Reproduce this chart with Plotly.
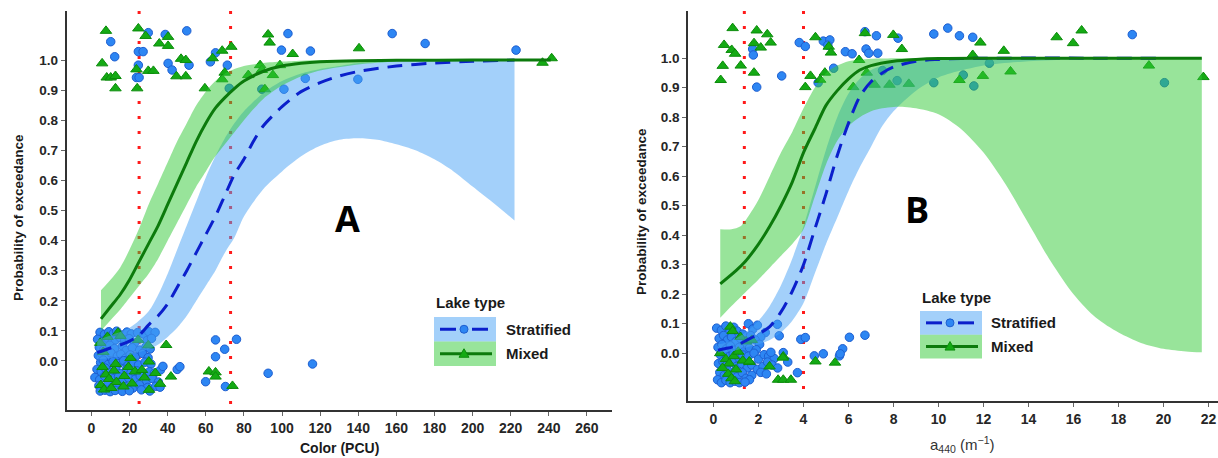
import plotly.graph_objects as go

W, H = 1218, 458

# ---------------- Panel A : colour (PCU) ----------------
a_thresholds = [25, 73]
a_xticks = [0, 20, 40, 60, 80, 100, 120, 140, 160, 180, 200, 220, 240, 260]

a_strat_line_x = [3, 6, 10, 15, 20, 25, 30, 35, 40, 45, 50, 55, 60, 65, 70, 75, 80, 85, 90, 100,
                  110, 120, 130, 140, 160, 180, 200, 222]
a_strat_line_y = [0.028, 0.034, 0.043, 0.053, 0.066, 0.085, 0.12, 0.15, 0.19, 0.245, 0.30, 0.36, 0.42,
                  0.48, 0.55, 0.62, 0.67, 0.73, 0.78, 0.845, 0.895, 0.925, 0.947, 0.962, 0.98, 0.99,
                  0.996, 1.0]
a_strat_band_x = [3, 10, 20, 30, 35, 40, 45, 50, 55, 60, 65, 70, 75, 80, 90, 100, 110, 120, 130, 140,
                  150, 160, 170, 180, 190, 200, 210, 222]
a_strat_band_lo = [0.005, 0.01, 0.02, 0.04, 0.055, 0.08, 0.11, 0.15, 0.2, 0.25, 0.3, 0.36, 0.41, 0.48,
                   0.57, 0.63, 0.68, 0.715, 0.735, 0.74, 0.735, 0.72, 0.70, 0.67, 0.63, 0.58, 0.53, 0.467]
a_strat_band_hi = [0.07, 0.085, 0.11, 0.165, 0.22, 0.29, 0.37, 0.45, 0.53, 0.61, 0.68, 0.74, 0.79, 0.83,
                   0.89, 0.93, 0.955, 0.97, 0.98, 0.99, 0.993, 0.996, 0.998, 0.999, 1.0, 1.0, 1.0, 1.0]

a_mixed_line_x = [5, 10, 15, 20, 25, 30, 35, 40, 45, 50, 55, 60, 65, 70, 75, 80, 90, 100, 110, 120,
                  140, 160, 200, 241]
a_mixed_line_y = [0.14, 0.18, 0.22, 0.27, 0.33, 0.39, 0.45, 0.52, 0.59, 0.66, 0.73, 0.79, 0.84, 0.875,
                  0.905, 0.93, 0.962, 0.98, 0.989, 0.994, 0.998, 0.999, 1.0, 1.0]
a_mixed_band_x = [5, 10, 15, 20, 25, 30, 35, 40, 45, 50, 55, 60, 65, 70, 75, 80, 90, 100, 110, 120,
                  140, 160, 180, 200, 241]
a_mixed_band_lo = [0.10, 0.135, 0.17, 0.21, 0.25, 0.29, 0.34, 0.40, 0.46, 0.52, 0.58, 0.63, 0.68, 0.72,
                   0.76, 0.80, 0.87, 0.915, 0.945, 0.965, 0.985, 0.995, 0.999, 1.0, 1.0]
a_mixed_band_hi = [0.235, 0.27, 0.31, 0.37, 0.44, 0.52, 0.59, 0.66, 0.73, 0.79, 0.85, 0.895, 0.93, 0.955,
                   0.97, 0.98, 0.99, 0.995, 0.998, 0.999, 1.0, 1.0, 1.0, 1.0, 1.0]

# jittered observations (exceeded = near 1, not exceeded = near 0)
a_strat_pts_x = [
    10.1, 12.2, 23.6, 25.0, 24.6, 27.1, 24.6, 29.8, 38.7, 40.2, 42.3, 50.0, 51.2, 62.4, 65.1, 71.3,
    72.3, 89.4, 99.7, 101.0, 103.1, 112.2, 114.9, 139.8, 157.8, 175.1, 222.8,
    4.5, 6.8, 9.1, 11.5, 13.2, 15.8, 18.6, 20.9, 24.2, 27.5, 30.1, 33.4,
    3.2, 5.9, 8.3, 10.7, 12.6, 14.9, 17.4, 19.8, 22.6, 29.2, 31.5,
    4.1, 6.5, 9.6, 12.1, 16.3, 18.2, 21.4, 25.3, 28.6, 30.8,
    3.6, 5.4, 7.7, 10.2, 13.6, 15.4, 17.9, 20.3, 23.1, 26.8, 29.7,
    4.8, 6.2, 8.8, 11.3, 14.4, 16.9, 19.1, 22.2, 24.7, 28.1, 31.2,
    2.9, 5.1, 7.3, 9.9, 12.8, 15.1, 18.4, 20.7, 23.8, 27.3, 30.4, 33.1, 36.2,
    1.8, 4.3, 6.9, 9.4, 11.9, 14.2, 16.6, 19.5, 22.9, 25.6, 28.9, 31.9, 35.1,
    3.9, 6.1, 8.6, 10.9, 13.4, 15.9, 18.1, 21.8, 25.1, 29.5, 33.7,
    4.6, 7.1, 9.8, 12.4, 16.2, 19.9, 26.2, 30.6,
    45.0, 46.4, 36.0, 37.5, 65.1, 69.9, 76.1, 65.1, 59.9, 70.3, 92.7, 116.0]
a_strat_pts_y = [
    1.061, 1.011, 0.942, 0.942, 1.028, 1.028, 0.983, 1.091, 1.085, 0.989, 0.967, 1.097, 0.983, 0.994,
    1.024, 0.983, 0.906, 0.903, 1.033, 0.903, 1.088, 0.939, 1.03, 0.936, 1.088, 1.055, 1.033,
    0.095, 0.088, 0.097, 0.091, 0.099, 0.086, 0.096, 0.09, 0.094, 0.089, 0.097, 0.095,
    0.072, 0.065, 0.076, 0.061, 0.07, 0.078, 0.066, 0.074, 0.06, 0.068, 0.075,
    0.045, 0.038, 0.052, 0.041, 0.049, 0.035, 0.044, 0.036, 0.047, 0.04,
    0.018, 0.024, 0.012, 0.027, 0.016, 0.022, 0.009, 0.02, 0.014, 0.025, 0.011,
    -0.005, 0.003, -0.012, -0.002, -0.009, 0.001, -0.015, -0.006, -0.013, -0.004, -0.01,
    -0.028, -0.035, -0.024, -0.038, -0.03, -0.042, -0.027, -0.039, -0.033, -0.045, -0.036, -0.04, -0.03,
    -0.055, -0.062, -0.05, -0.066, -0.058, -0.052, -0.064, -0.056, -0.061, -0.05, -0.067, -0.058, -0.07,
    -0.082, -0.09, -0.078, -0.088, -0.083, -0.094, -0.085, -0.09, -0.079, -0.088, -0.084,
    -0.1, -0.097, -0.102, -0.098, -0.101, -0.099, -0.096, -0.1,
    -0.028, -0.019, -0.087, -0.018, 0.07, 0.039, 0.072, 0.014, -0.069, -0.085, -0.041, -0.01]

a_mixed_pts_x = [
    7.6, 5.6, 8.0, 10.1, 12.6, 12.6, 24.6, 23.6, 24.0, 28.4, 29.8, 32.5, 35.6, 40.2, 40.2, 44.6, 49.5,
    47.0, 49.5, 59.5, 63.6, 68.6, 69.9, 68.6, 73.4, 82.3, 88.5, 89.4, 91.0, 92.7, 93.5, 95.2, 98.9,
    105.6, 140.4, 236.7, 241.5,
    4.6, 6.2, 8.4, 13.9, 15.2, 24.5, 29.8, 5.8, 7.5, 9.2, 11.8, 13.1, 17.2, 19.4, 21.3, 22.8, 26.5,
    27.8, 30.1, 30.2, 33.5, 4.9, 6.6, 10.4, 12.7, 16.8, 20.5,
    39.2, 41.7, 36.0, 61.6, 65.1, 65.1, 74.0]
a_mixed_pts_y = [
    1.097, 0.989, 0.942, 0.942, 0.947, 0.906, 1.105, 0.969, 0.906, 1.08, 0.964, 0.964, 1.055, 1.077,
    1.047, 0.946, 0.946, 1.004, 1.0, 0.906, 1.006, 1.031, 0.958, 0.936, 1.044, 0.95, 0.983, 0.967,
    0.903, 1.085, 1.058, 0.95, 0.983, 1.02, 1.039, 0.991, 1.006,
    0.06, 0.03, 0.08, 0.094, 0.083, 0.07, 0.052, -0.02, -0.045, -0.06, -0.032, -0.07, -0.05, -0.02,
    -0.075, -0.035, -0.03, -0.055, -0.002, -0.096, -0.04, -0.08, -0.095, -0.09, -0.01, -0.085, 0.01,
    0.053, -0.052, -0.076, -0.035, -0.038, -0.052, -0.083]

# ---------------- Panel B : a440 (m-1) ----------------
b_thresholds = [1.37, 4.0]
b_xticks = [0, 2, 4, 6, 8, 10, 12, 14, 16, 18, 20, 22]

b_strat_line_x = [0.2, 0.5, 1, 1.5, 2, 2.5, 3, 3.5, 4, 4.5, 5, 5.5, 6, 6.5, 7, 7.5, 8, 9, 10, 11, 12, 19.9]
b_strat_line_y = [0.01, 0.015, 0.025, 0.045, 0.065, 0.09, 0.14, 0.21, 0.30, 0.42, 0.54, 0.67, 0.78,
                  0.87, 0.92, 0.95, 0.97, 0.99, 0.996, 0.999, 1.0, 1.0]
b_strat_band_x = [0.2, 0.5, 1, 1.5, 2, 2.5, 3, 3.5, 4, 4.5, 5, 5.5, 6, 6.5, 7, 7.5, 8, 9, 10, 12, 14,
                  16, 19.9]
b_strat_band_lo = [0.002, 0.004, 0.01, 0.02, 0.03, 0.045, 0.07, 0.11, 0.17, 0.27, 0.37, 0.46, 0.55,
                   0.63, 0.70, 0.77, 0.82, 0.89, 0.935, 0.975, 0.99, 0.996, 1.0]
b_strat_band_hi = [0.03, 0.035, 0.05, 0.075, 0.11, 0.16, 0.23, 0.32, 0.43, 0.56, 0.69, 0.80, 0.88,
                   0.93, 0.96, 0.975, 0.99, 0.997, 1.0, 1.0, 1.0, 1.0, 1.0]

b_mixed_line_x = [0.3, 1, 1.4, 2, 2.5, 3, 3.5, 4, 4.5, 5, 5.5, 6, 6.5, 7, 8, 9, 10, 12, 21.7]
b_mixed_line_y = [0.235, 0.28, 0.31, 0.37, 0.43, 0.50, 0.58, 0.68, 0.76, 0.84, 0.89, 0.93, 0.96, 0.975,
                  0.99, 0.996, 0.999, 1.0, 1.0]
b_mixed_band_x = [0.3, 0.8, 1.2, 1.6, 2, 2.5, 3, 3.5, 4, 4.5, 5, 5.5, 6, 6.5, 7, 7.5, 8, 8.5, 9, 10,
                  11, 12, 13, 14, 15, 16, 17, 18, 19, 20, 21, 21.7]
b_mixed_band_lo = [0.12, 0.16, 0.19, 0.22, 0.25, 0.29, 0.33, 0.37, 0.42, 0.53, 0.64, 0.72, 0.77, 0.80,
                   0.82, 0.83, 0.835, 0.835, 0.83, 0.81, 0.76, 0.68, 0.57, 0.44, 0.31, 0.2, 0.12, 0.07,
                   0.035, 0.015, 0.006, 0.003]
b_mixed_band_hi = [0.42, 0.42, 0.43, 0.47, 0.52, 0.60, 0.68, 0.75, 0.83, 0.90, 0.95, 0.975, 0.99, 0.995,
                   0.998, 0.999, 1.0, 1.0, 1.0, 1.0, 1.0, 1.0, 1.0, 1.0, 1.0, 1.0, 1.0, 1.0, 1.0, 1.0,
                   1.0, 1.0]

b_strat_pts_x = [
    1.74, 1.77, 1.92, 3.03, 3.81, 4.08, 4.65, 4.88, 5.17, 5.08, 5.34, 5.86, 6.16, 6.73, 6.78, 6.9, 7.3,
    7.24, 7.51, 8.2, 8.16, 9.79, 9.79, 10.41, 10.93, 11.1, 11.52, 11.57, 12.26, 18.61, 20.04,
    0.14, 0.35, 0.55, 0.72, 0.9, 1.05, 1.3, 1.55, 1.75, 1.95, 2.3, 2.1,
    0.25, 0.45, 0.62, 0.8, 1.0, 1.2, 1.45, 1.65, 1.85, 2.05,
    0.2, 0.38, 0.58, 0.75, 0.95, 1.15, 1.35, 1.6, 1.9,
    0.3, 0.5, 0.68, 0.88, 1.1, 1.3, 1.55, 1.8, 2.0, 2.25, 2.45, 2.7, 2.55,
    0.22, 0.42, 0.6, 0.82, 1.02, 1.25, 1.5, 1.7, 1.95, 2.2, 2.4, 2.6, 2.85,
    0.28, 0.48, 0.66, 0.86, 1.05, 1.28, 1.45, 1.7, 2.1, 2.35, 1.6,
    0.18, 0.35, 0.55, 0.74, 0.95, 1.15, 1.4,
    2.84, 2.92, 3.88, 4.08, 3.1, 3.73, 4.48, 4.88, 5.6, 5.74, 5.63, 6.04, 6.73, 3.3]
b_strat_pts_y = [
    1.031, 1.011, 0.902, 0.94, 1.053, 1.04, 0.917, 1.058, 1.062, 1.044, 0.966, 1.022, 1.015, 1.09, 1.031,
    1.017, 1.017, 1.076, 0.958, 1.068, 0.924, 1.082, 0.917, 1.102, 1.076, 0.943, 1.071, 0.906, 0.983,
    1.08, 0.917,
    0.085, 0.078, 0.092, 0.07, 0.088, 0.075, 0.065, 0.1, 0.082, 0.095, 0.07, 0.055,
    0.05, 0.06, 0.045, 0.055, 0.04, 0.05, 0.035, 0.06, 0.045, 0.03,
    0.02, 0.03, 0.015, 0.025, 0.01, 0.02, 0.005, 0.018, 0.012,
    -0.005, 0.0, -0.012, -0.002, -0.015, -0.006, -0.01, 0.0, -0.02, -0.005, -0.01, -0.018, 0.003,
    -0.035, -0.028, -0.04, -0.03, -0.045, -0.035, -0.05, -0.04, -0.055, -0.045, -0.03, -0.04, -0.05,
    -0.065, -0.075, -0.06, -0.07, -0.08, -0.066, -0.085, -0.075, -0.065, -0.07, -0.09,
    -0.09, -0.1, -0.092, -0.1, -0.095, -0.1, -0.098,
    0.098, 0.059, 0.047, 0.053, 0.002, -0.066, -0.009, -0.002, -0.009, 0.015, -0.002, 0.054, 0.061,
    -0.03]

b_mixed_pts_x = [
    0.85, 0.47, 0.81, 0.96, 0.41, 0.32, 1.21, 1.80, 1.80, 1.92, 2.10, 2.39, 2.54, 4.08, 4.53, 4.31,
    4.74, 4.95, 5.12, 5.22, 6.21, 6.47, 6.81, 7.16, 6.73, 7.82, 7.99, 8.37, 8.68, 10.93, 11.86, 11.97,
    11.52, 12.9, 13.2, 15.25, 15.98, 16.36, 19.35, 21.77,
    0.75, 0.85, 1.2, 1.45, 1.7, 0.3, 0.55, 0.7, 0.9, 1.1, 1.3, 0.4, 0.65, 0.8, 1.0, 0.95, 1.6,
    3.1, 2.87, 3.1, 3.44, 4.53, 5.4, 2.49, 1.59, 3.08]
b_mixed_pts_y = [
    1.102, 1.045, 1.028, 1.015, 0.974, 0.926, 0.975, 1.051, 0.951, 1.094, 1.036, 1.081, 1.053, 0.902,
    1.071, 0.94, 0.927, 0.951, 1.039, 1.019, 0.902, 0.994, 0.951, 0.91, 1.085, 0.91, 1.079, 1.031,
    0.913, 0.926, 1.053, 0.94, 1.011, 1.025, 0.955, 1.071, 1.051, 1.094, 0.975, 0.936,
    0.09, 0.075, 0.055, 0.04, 0.045, 0.0, -0.02, -0.035, -0.01, 0.005, -0.025, -0.05, -0.07, -0.085,
    -0.055, -0.095, -0.03,
    -0.011, -0.09, -0.09, -0.09, -0.028, -0.032, -0.045, -0.028, -0.015]

y_ticks = [0.0, 0.1, 0.2, 0.3, 0.4, 0.5, 0.6, 0.7, 0.8, 0.9, 1.0]
lake_types = ["Stratified", "Mixed"]

# ---------------- styling ----------------
STRAT_FILL = "rgba(71,161,245,0.5)"
MIXED_FILL = "rgba(49,201,53,0.5)"
STRAT_LINE = "#0B1FCB"
MIXED_LINE = "#0C7A0C"
STRAT_PT = "#2D86F3"
STRAT_PT_EDGE = "#1D5ED0"
MIXED_PT = "#14AA14"
MIXED_PT_EDGE = "#0C8C0C"
AXIS_COL = "#333333"
FONT = "Liberation Sans"

fig = go.Figure()


def add_panel(xa, ya, sx, sy, mx, my, sbx, slo, shi, mbx, mlo, mhi, slx, sly, mlx, mly):
    fig.add_trace(go.Scatter(x=sx, y=sy, mode="markers", xaxis=xa, yaxis=ya, showlegend=False,
                             marker=dict(symbol="circle", size=8.5, color=STRAT_PT,
                                         line=dict(color=STRAT_PT_EDGE, width=1))))
    fig.add_trace(go.Scatter(x=mx, y=my, mode="markers", xaxis=xa, yaxis=ya, showlegend=False,
                             marker=dict(symbol="triangle-up", size=10, color=MIXED_PT,
                                         line=dict(color=MIXED_PT_EDGE, width=1))))
    for bx, lo, hi, fc in ((sbx, slo, shi, STRAT_FILL), (mbx, mlo, mhi, MIXED_FILL)):
        fig.add_trace(go.Scatter(x=bx, y=lo, mode="lines", xaxis=xa, yaxis=ya, showlegend=False,
                                 line=dict(width=0, shape="spline", smoothing=0.8),
                                 hoverinfo="skip"))
        fig.add_trace(go.Scatter(x=bx, y=hi, mode="lines", xaxis=xa, yaxis=ya, showlegend=False,
                                 line=dict(width=0, shape="spline", smoothing=0.8),
                                 fill="tonexty", fillcolor=fc, hoverinfo="skip"))
    fig.add_trace(go.Scatter(x=slx, y=sly, mode="lines", xaxis=xa, yaxis=ya, showlegend=False,
                             line=dict(color=STRAT_LINE, width=3, dash="15px,9px",
                                       shape="spline", smoothing=0.8)))
    fig.add_trace(go.Scatter(x=mlx, y=mly, mode="lines", xaxis=xa, yaxis=ya, showlegend=False,
                             line=dict(color=MIXED_LINE, width=3, shape="spline", smoothing=0.8)))


add_panel("x", "y", a_strat_pts_x, a_strat_pts_y, a_mixed_pts_x, a_mixed_pts_y,
          a_strat_band_x, a_strat_band_lo, a_strat_band_hi,
          a_mixed_band_x, a_mixed_band_lo, a_mixed_band_hi,
          a_strat_line_x, a_strat_line_y, a_mixed_line_x, a_mixed_line_y)
add_panel("x2", "y2", b_strat_pts_x, b_strat_pts_y, b_mixed_pts_x, b_mixed_pts_y,
          b_strat_band_x, b_strat_band_lo, b_strat_band_hi,
          b_mixed_band_x, b_mixed_band_lo, b_mixed_band_hi,
          b_strat_line_x, b_strat_line_y, b_mixed_line_x, b_mixed_line_y)


def px(x):
    return x / W


def py(y):
    return 1 - y / H


shapes = []
# threshold lines
for xref, yref, vals in (("x", "y domain", a_thresholds), ("x2", "y2 domain", b_thresholds)):
    for v in vals:
        shapes.append(dict(type="line", xref=xref, yref=yref, x0=v, x1=v, y0=1, y1=0,
                           layer="below", line=dict(color="#FF1A1A", width=3, dash="3px,12px")))

annotations = []


def note(x, y, text, font, **kw):
    annotations.append(dict(xref="paper", yref="paper", x=px(x), y=py(y), text=text,
                            showarrow=False, xanchor=kw.pop("xanchor", "center"),
                            yanchor="middle", font=font, **kw))


def bold(size, color="#1a1a1a", family=FONT):
    return dict(family=family, size=size, color=color, weight="bold")


def legend(x0, y_title, y_box_top, box_w, row_h, text_x):
    note(x0, y_title, "Lake type", bold(15), xanchor="left")
    fills = [STRAT_FILL, MIXED_FILL]
    for i, name in enumerate(lake_types):
        top = y_box_top + i * row_h
        shapes.append(dict(type="rect", xref="paper", yref="paper", x0=px(x0), x1=px(x0 + box_w),
                           y0=py(top + row_h), y1=py(top), fillcolor=fills[i], line=dict(width=0)))
        yc = top + row_h / 2
        l0, l1 = x0 + 6, x0 + box_w - 8
        mid = (l0 + l1) / 2
        if i == 0:
            for a, b in ((l0, mid - 8), (mid + 8, l1)):
                shapes.append(dict(type="line", xref="paper", yref="paper", x0=px(a), x1=px(b),
                                   y0=py(yc), y1=py(yc), line=dict(color=STRAT_LINE, width=3)))
            shapes.append(dict(type="circle", xref="paper", yref="paper",
                               x0=px(mid - 4), x1=px(mid + 4), y0=py(yc + 4), y1=py(yc - 4),
                               fillcolor=STRAT_PT, line=dict(color=STRAT_PT_EDGE, width=1)))
        else:
            shapes.append(dict(type="line", xref="paper", yref="paper", x0=px(l0), x1=px(l1 + 4),
                               y0=py(yc), y1=py(yc), line=dict(color=MIXED_LINE, width=3)))
            path = "M {} {} L {} {} L {} {} Z".format(px(mid - 5), py(yc + 3.5), px(mid + 5),
                                                      py(yc + 3.5), px(mid), py(yc - 5))
            shapes.append(dict(type="path", xref="paper", yref="paper", path=path,
                               fillcolor=MIXED_PT, line=dict(color=MIXED_PT_EDGE, width=1)))
        note(text_x, yc, name, bold(15), xanchor="left")


legend(434, 302, 317, 62, 24.5, 504)
legend(920, 297, 311, 62, 23.7, 989)

# panel letters
note(347, 218, "A", bold(36, "#000000", "Open Sans"))
note(917, 209, "B", bold(36, "#000000", "Open Sans"))

# axis titles
note(18, 218, "Probability of exceedance", bold(13.5), textangle=-90)
note(641, 212, "Probability of exceedance", bold(13.5), textangle=-90)
note(339, 448, "Color (PCU)", bold(14))
note(962, 444, "a<sub>440</sub> (m<sup>\u22121</sup>)",
     dict(family=FONT, size=15, color="#333333"))

tickfont = dict(family=FONT, size=14, color="#262626", weight="bold")
ytickfont = dict(family=FONT, size=13.5, color="#262626", weight="bold")
common_x = dict(showline=True, linecolor=AXIS_COL, linewidth=2, ticks="outside", ticklen=4,
                tickwidth=1.2, tickcolor="#666666", showgrid=False, zeroline=False,
                tickfont=tickfont, tickmode="array")
common_y = dict(showline=True, linecolor=AXIS_COL, linewidth=2, ticks="outside", ticklen=4,
                tickwidth=1.2, tickcolor="#666666", showgrid=False, zeroline=False,
                tickfont=ytickfont, tickmode="array", tickvals=y_ticks,
                ticktext=["{:.1f}".format(v) for v in y_ticks])

fig.update_layout(
    width=W, height=H,
    margin=dict(l=0, r=0, t=0, b=0),
    paper_bgcolor="white", plot_bgcolor="white",
    showlegend=False,
    xaxis=dict(domain=[66.7 / W, 611.7 / W], range=[-13, 273], tickvals=a_xticks,
               anchor="y", **common_x),
    yaxis=dict(domain=[48 / H, 447 / H], range=[-0.163, 1.163], anchor="x", **common_y),
    xaxis2=dict(domain=[688.3 / W, 1.0], range=[-1.12, 22.42], tickvals=b_xticks,
                anchor="y2", **common_x),
    yaxis2=dict(domain=[57 / H, 447 / H], range=[-0.162, 1.16], anchor="x2", **common_y),
    shapes=shapes,
    annotations=annotations,
)

fig.write_html("out.html")
